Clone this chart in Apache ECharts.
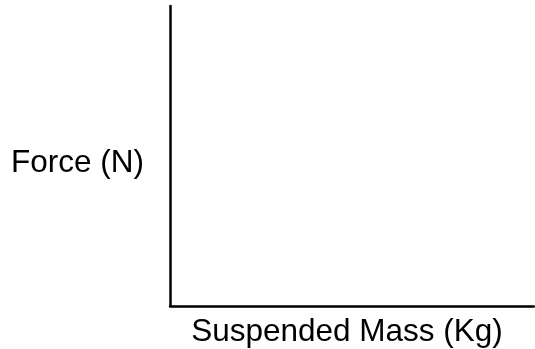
<!DOCTYPE html>
<html>
<head>
<meta charset="utf-8">
<script src="https://cdn.jsdelivr.net/npm/echarts@6/dist/echarts.min.js"></script>
<style>html,body{margin:0;padding:0;background:#fff}#c{width:535px;height:349px}</style>
</head>
<body>
<div id="c"></div>
<script>
// The reference chart is an empty set of axes: no data points are plotted.
var xTitle = "Suspended Mass (Kg)";
var yTitle = "Force (N)";
var massValues = [];
var forceValues = [];

var chart = echarts.init(document.getElementById('c'), null, {renderer: 'canvas'});
var axisCommon = {
  type: 'value', min: 0, max: 1,
  axisLine: {show: true, onZero: false, lineStyle: {color: '#000', width: 2.5}},
  axisTick: {show: false}, axisLabel: {show: false}, splitLine: {show: false}
};
chart.setOption({
  animation: false,
  backgroundColor: '#fff',
  grid: {left: 170, top: 6, right: 1, bottom: 43, containLabel: false, outerBoundsMode: 'none'},
  xAxis: Object.assign({}, axisCommon, {
    name: xTitle, nameLocation: 'middle', nameGap: 10,
    nameTextStyle: {fontFamily: 'Liberation Sans, Arial, sans-serif', fontSize: 31.5, color: '#000', padding: [0, 10, 0, 0]}
  }),
  yAxis: Object.assign({}, axisCommon, {
    name: yTitle, nameLocation: 'middle', nameGap: 26, nameRotate: 0,
    nameTextStyle: {fontFamily: 'Liberation Sans, Arial, sans-serif', fontSize: 31.5, color: '#000',
      verticalAlign: 'top', lineHeight: 14}
  }),
  series: [{type: 'scatter', data: massValues.map(function (m, i) { return [m, forceValues[i]]; })}]
});
</script>
</body>
</html>
